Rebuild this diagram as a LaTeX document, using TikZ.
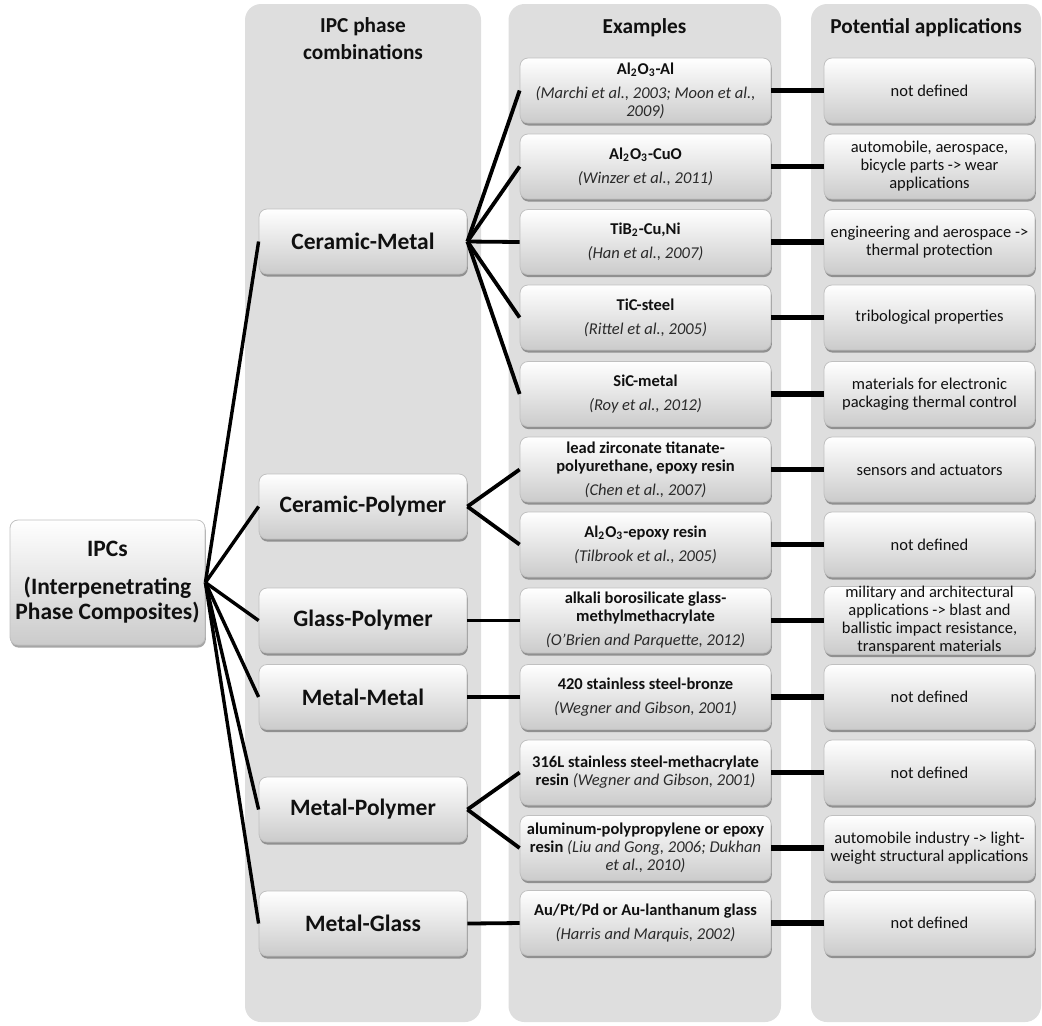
\documentclass[tikz,border=0pt]{standalone}
\usepackage{fontspec}
\setmainfont{Carlito}
\usetikzlibrary{shadows}
\definecolor{colbg}{HTML}{DEDEDE}
\definecolor{boxbot}{HTML}{CBCBCB}
\definecolor{boxedge}{HTML}{C0C0C0}
\definecolor{citecol}{HTML}{2A2A2A}
\definecolor{txt}{HTML}{101010}
\newcommand{\ipccite}[1]{{\itshape\color{citecol}#1}}
\tikzset{
  bgpanel/.style={fill=colbg, draw=none, rounded corners=8pt},
  basebox/.style={rounded corners=4pt, draw=boxedge, line width=0.4pt,
    top color=white, bottom color=boxbot, inner sep=0pt, align=center, text=txt,
    drop shadow={shadow xshift=0.4pt, shadow yshift=-1.3pt, opacity=0.35, fill=black}},
  phasebox/.style={basebox, minimum width=104pt, minimum height=32.5pt,
    font=\fontsize{11.75}{12.5}\selectfont\bfseries},
  rootbox/.style={basebox, minimum width=97.5pt, minimum height=62.5pt,
    font=\fontsize{11.75}{12.5}\selectfont\bfseries},
  exbox/.style={basebox, minimum width=125.5pt, minimum height=32.5pt,
    font=\fontsize{8.25}{9}\selectfont},
  appbox/.style={basebox, minimum width=105.5pt, minimum height=32.5pt,
    font=\fontsize{8.25}{9}\selectfont},
  head/.style={font=\fontsize{10.65}{13.5}\selectfont\bfseries, align=center, text=txt},
  fanroot/.style={line width=1.7pt, black},
  fanphase/.style={line width=1.9pt, black},
  linkapp/.style={line width=2.6pt, black}
}
\begin{document}
\begin{tikzpicture}[x=0.5pt,y=-0.5pt]
\useasboundingbox (0,0) rectangle (1042,1025);
% column panels
\fill[bgpanel] (245,4) rectangle (481,1022);
\fill[bgpanel] (508.5,4) rectangle (781,1022);
\fill[bgpanel] (811,4) rectangle (1041,1022);
% headers
\node[head] (h1) at (363,39) {IPC phase\\combinations};
\node[head] (h2) at (644.5,28) {Examples};
\node[head] (h3) at (926,28) {Potential applications};
% root
\node[rootbox] (root) at (107.5,582.5) {IPCs\\[6.5pt](Interpenetrating\\Phase Composites)};
% phase combinations
\node[phasebox] (cm) at (363,241.5) {Ceramic-Metal};
\node[phasebox] (cp) at (363,506.5) {Ceramic-Polymer};
\node[phasebox] (gp) at (363,620.5) {Glass-Polymer};
\node[phasebox] (mm) at (363,697) {Metal-Metal};
\node[phasebox] (mp) at (363,809.5) {Metal-Polymer};
\node[phasebox] (mg) at (363,923.5) {Metal-Glass};
% examples
\node[exbox] (e1) at (645.5,90.5) {\textbf{Al\textsubscript{2}O\textsubscript{3}-Al}\\[3pt]\ipccite{(Marchi et al., 2003; Moon et al.,}\\\ipccite{2009)}};
\node[exbox] (e2) at (645.5,166.5) {\textbf{Al\textsubscript{2}O\textsubscript{3}-CuO}\\[3pt]\ipccite{(Winzer et al., 2011)}};
\node[exbox] (e3) at (645.5,242) {\textbf{TiB\textsubscript{2}-Cu,Ni}\\[3pt]\ipccite{(Han et al., 2007)}};
\node[exbox] (e4) at (645.5,317.5) {\textbf{TiC-steel}\\[3pt]\ipccite{(Rittel et al., 2005)}};
\node[exbox] (e5) at (645.5,394) {\textbf{SiC-metal}\\[3pt]\ipccite{(Roy et al., 2012)}};
\node[exbox] (e6) at (645.5,469.5) {\textbf{lead zirconate titanate-}\\\textbf{polyurethane, epoxy resin}\\[3pt]\ipccite{(Chen et al., 2007)}};
\node[exbox] (e7) at (645.5,544.5) {\textbf{Al\textsubscript{2}O\textsubscript{3}-epoxy resin}\\[3pt]\ipccite{(Tilbrook et al., 2005)}};
\node[exbox] (e8) at (645.5,620.5) {\textbf{alkali borosilicate glass-}\\\textbf{methylmethacrylate}\\[3pt]\ipccite{(O’Brien and Parquette, 2012)}};
\node[exbox] (e9) at (645.5,697) {\textbf{420 stainless steel-bronze}\\[3pt]\ipccite{(Wegner and Gibson, 2001)}};
\node[exbox] (e10) at (645.5,772.5) {\textbf{316L stainless steel-methacrylate}\\\textbf{resin} \ipccite{(Wegner and Gibson, 2001)}};
\node[exbox] (e11) at (645.5,848) {\textbf{aluminum-polypropylene or epoxy}\\\textbf{resin} \ipccite{(Liu and Gong, 2006; Dukhan}\\\ipccite{et al., 2010)}};
\node[exbox] (e12) at (645.5,923) {\textbf{Au/Pt/Pd or Au-lanthanum glass}\\[3pt]\ipccite{(Harris and Marquis, 2002)}};
% applications
\node[appbox] (a1) at (929.5,90.5) {not defined};
\node[appbox] (a2) at (929.5,166.5) {automobile, aerospace,\\bicycle parts -> wear\\applications};
\node[appbox] (a3) at (929.5,242) {engineering and aerospace ->\\thermal protection};
\node[appbox] (a4) at (929.5,317.5) {tribological properties};
\node[appbox] (a5) at (929.5,394) {materials for electronic\\packaging thermal control};
\node[appbox] (a6) at (929.5,469.5) {sensors and actuators};
\node[appbox] (a7) at (929.5,544.5) {not defined};
\node[appbox] (a8) at (929.5,620.5) {military and architectural\\applications -> blast and\\ballistic impact resistance,\\transparent materials};
\node[appbox] (a9) at (929.5,697) {not defined};
\node[appbox] (a10) at (929.5,772.5) {not defined};
\node[appbox] (a11) at (929.5,848) {automobile industry -> light-\\weight structural applications};
\node[appbox] (a12) at (929.5,923) {not defined};
% root fan
\foreach \p in {cm,cp,gp,mm,mp,mg}
  \draw[fanroot] (root.east) -- (\p.west);
% phase fans
\foreach \e in {e1,e2,e3,e4,e5}
  \draw[fanphase] (cm.east) -- (\e.west);
\foreach \e in {e6,e7}
  \draw[fanphase] (cp.east) -- (\e.west);
\draw[fanphase] (gp.east) -- (e8.west);
\draw[fanphase] (mm.east) -- (e9.west);
\foreach \e in {e10,e11}
  \draw[fanphase] (mp.east) -- (\e.west);
\draw[fanphase] (mg.east) -- (e12.west);
% example to application links
\foreach \i in {1,...,12}
  \draw[linkapp] (e\i.east) -- (a\i.west);
\end{tikzpicture}
\end{document}
